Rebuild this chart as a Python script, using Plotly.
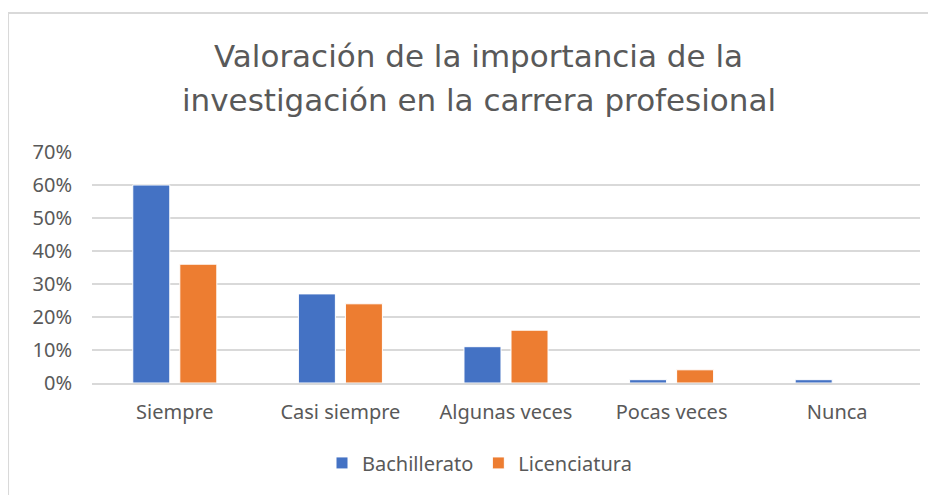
import plotly.graph_objects as go

categorias = ["Siempre", "Casi siempre", "Algunas veces", "Pocas veces", "Nunca"]
bachillerato = [0.60, 0.27, 0.11, 0.01, 0.01]
licenciatura = [0.36, 0.24, 0.16, 0.04, 0.00]
y_ticks = [0, 0.1, 0.2, 0.3, 0.4, 0.5, 0.6, 0.7]
y_labels = ["0%", "10%", "20%", "30%", "40%", "50%", "60%", "70%"]
titulo = ["Valoración de la importancia de la", "investigación en la carrera profesional"]

gris = "#595959"
fig = go.Figure()
fig.add_trace(go.Bar(x=categorias, y=bachillerato, name="Bachillerato",
                     marker=dict(color="#4472C4", line=dict(color="white", width=1))))
fig.add_trace(go.Bar(x=categorias, y=licenciatura, name="Licenciatura",
                     marker=dict(color="#ED7D31", line=dict(color="white", width=1))))

fig.update_layout(
    width=928, height=487,
    margin=dict(l=84, r=16, t=144, b=112),
    paper_bgcolor="white", plot_bgcolor="white",
    barmode="group", bargap=0.432, bargroupgap=0.213,
    font=dict(family="Noto Sans", color=gris, size=20),
    showlegend=True,
    legend=dict(orientation="h", x=0.468, xanchor="center", y=-0.346, yanchor="middle",
                font=dict(size=20), traceorder="normal"),
)
# two title lines placed separately to match the wide line spacing
for linea, ypos in zip(titulo, [1.414, 1.225]):
    fig.add_annotation(text=linea, xref="paper", yref="paper", x=0.467, y=ypos,
                       yanchor="middle", showarrow=False,
                       font=dict(family="DejaVu Sans", size=31, color=gris))
fig.update_yaxes(range=[0, 0.7], tickvals=y_ticks, ticktext=y_labels,
                 showgrid=True, gridcolor="#d9d9d9", gridwidth=2, zeroline=False,
                 ticklabelstandoff=19, showline=False)
fig.update_xaxes(showline=True, linecolor="#d9d9d9", linewidth=2, ticks="",
                 ticklabelstandoff=10)
fig.add_shape(type="rect", xref="paper", yref="paper", x0=-0.1014, y0=-2, x1=2, y1=1.6017,
              line=dict(color="#d9d9d9", width=2), fillcolor="rgba(0,0,0,0)")

fig.write_html("out.html")
